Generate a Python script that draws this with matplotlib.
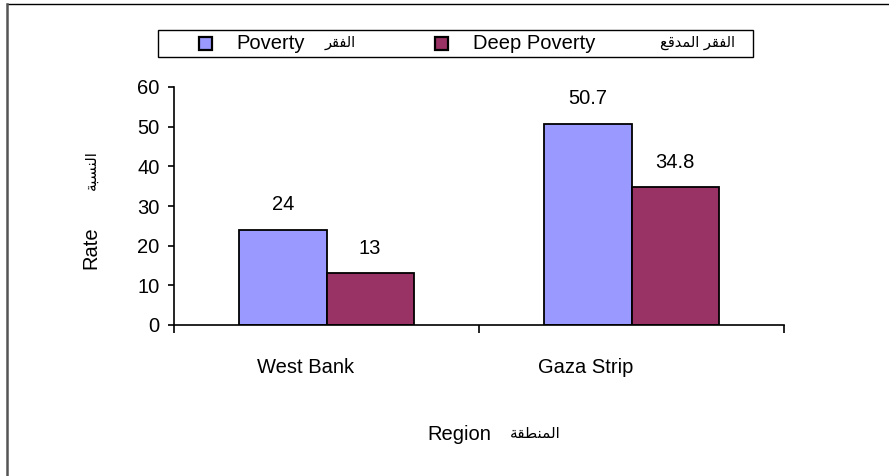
import matplotlib
matplotlib.use("Agg")
import matplotlib.pyplot as plt
from matplotlib.patches import Rectangle
from matplotlib.lines import Line2D
import numpy as np

# ---- data ----
regions = ["West Bank", "Gaza Strip"]
poverty = [24, 50.7]
deep_poverty = [13, 34.8]
series_names = ["Poverty", "Deep Poverty"]
yticks = [0, 10, 20, 30, 40, 50, 60]

# Arabic strings in visual (display) order with presentation forms
ar_faqr = "\uFEAE\uFED8\uFED4\uFEDF\uFE8D"                 # الفقر
ar_mudqi = "\uFECA\uFED7\uFEAA\uFEE4\uFEDF\uFE8D"          # المدقع
ar_deep = ar_mudqi + " " + ar_faqr                          # الفقر المدقع
ar_rate = "\uFE94\uFE92\uFEB4\uFEE8\uFEDF\uFE8D"           # النسبة
ar_region = "\uFE94\uFED8\uFEC4\uFEE8\uFEE4\uFEDF\uFE8D"   # المنطقة

plt.rcParams['font.family'] = ['Liberation Sans', 'DejaVu Sans']
FS = 14.5
AFS = 10.5
c_pov = '#9999FF'
c_deep = '#993366'

W, H = 889, 476
fig = plt.figure(figsize=(W / 100, H / 100), dpi=100)

def fx(x):
    return x / W

def fy(y):
    return 1 - y / H

# outer border (top and left)
fig.add_artist(Line2D([fx(7), 1], [fy(4), fy(4)], color='black', lw=1.0, transform=fig.transFigure))
fig.add_artist(Line2D([fx(7), fx(7)], [fy(4), 0], color='#555555', lw=1.8, transform=fig.transFigure))

ax_l, ax_r, ax_t, ax_b = 174, 784, 87, 325
ax = fig.add_axes([fx(ax_l), fy(ax_b), fx(ax_r - ax_l), (ax_b - ax_t) / H])

x = np.arange(len(regions))
w = 0.286
b1 = ax.bar(x - w / 2, poverty, w, color=c_pov, edgecolor='black', linewidth=1.3)
b2 = ax.bar(x + w / 2, deep_poverty, w, color=c_deep, edgecolor='black', linewidth=1.3)

for bars, vals in ((b1, poverty), (b2, deep_poverty)):
    for rect, v in zip(bars, vals):
        ax.annotate(f"{v:g}", (rect.get_x() + rect.get_width() / 2, v),
                    xytext=(0, 14), textcoords='offset points',
                    ha='center', va='baseline', fontsize=FS)

ax.set_xlim(-0.5, len(regions) - 0.5)
ax.set_ylim(0, 60)
ax.set_yticks(yticks)
ax.tick_params(axis='y', direction='out', length=4.5, width=1.2, pad=6, labelsize=FS)

# category boundary ticks
ax.set_xticks(np.arange(len(regions) + 1) - 0.5)
ax.set_xticklabels([])
ax.tick_params(axis='x', which='major', direction='out', length=6, width=1.2)
# category labels (slightly left of centre, as in the reference)
label_shift = [-0.07, -0.15]
ax.set_xticks(x + np.array(label_shift), minor=True)
ax.set_xticklabels(regions, minor=True, fontsize=FS)
ax.tick_params(axis='x', which='minor', length=0, pad=23.5)

for s in ('top', 'right'):
    ax.spines[s].set_visible(False)
for s in ('left', 'bottom'):
    ax.spines[s].set_linewidth(1.2)

# y label
fig.text(fx(91), fy(248), "Rate", rotation=90, ha='center', va='center', fontsize=FS)
fig.text(fx(91), fy(170), ar_rate, rotation=90, ha='center', va='center', fontsize=AFS + 0.5,
         family='DejaVu Sans')

# x label
fig.text(fx(427), fy(435), "Region", ha='left', va='center', fontsize=FS)
fig.text(fx(535), fy(434), ar_region, ha='center', va='center', fontsize=AFS + 0.5,
         family='DejaVu Sans')

# legend box
fig.add_artist(Rectangle((fx(158), fy(57)), fx(753 - 158), (57 - 30) / H, fill=False,
                         edgecolor='black', lw=1.0, transform=fig.transFigure))
ly = 43.5
for mx, col in ((198, c_pov), (434, c_deep)):
    fig.add_artist(Rectangle((fx(mx + 1), fy(ly + 6.5)), fx(13), 13 / H, facecolor=col,
                             edgecolor='black', lw=1.6, transform=fig.transFigure))
fig.text(fx(236), fy(ly), series_names[0], ha='left', va='center', fontsize=FS)
fig.text(fx(340), fy(ly - 1), ar_faqr, ha='center', va='center', fontsize=AFS, family='DejaVu Sans')
fig.text(fx(473), fy(ly), series_names[1], ha='left', va='center', fontsize=FS)
fig.text(fx(698), fy(ly - 1), ar_deep, ha='center', va='center', fontsize=AFS, family='DejaVu Sans')

fig.savefig("out.png", dpi=100)
